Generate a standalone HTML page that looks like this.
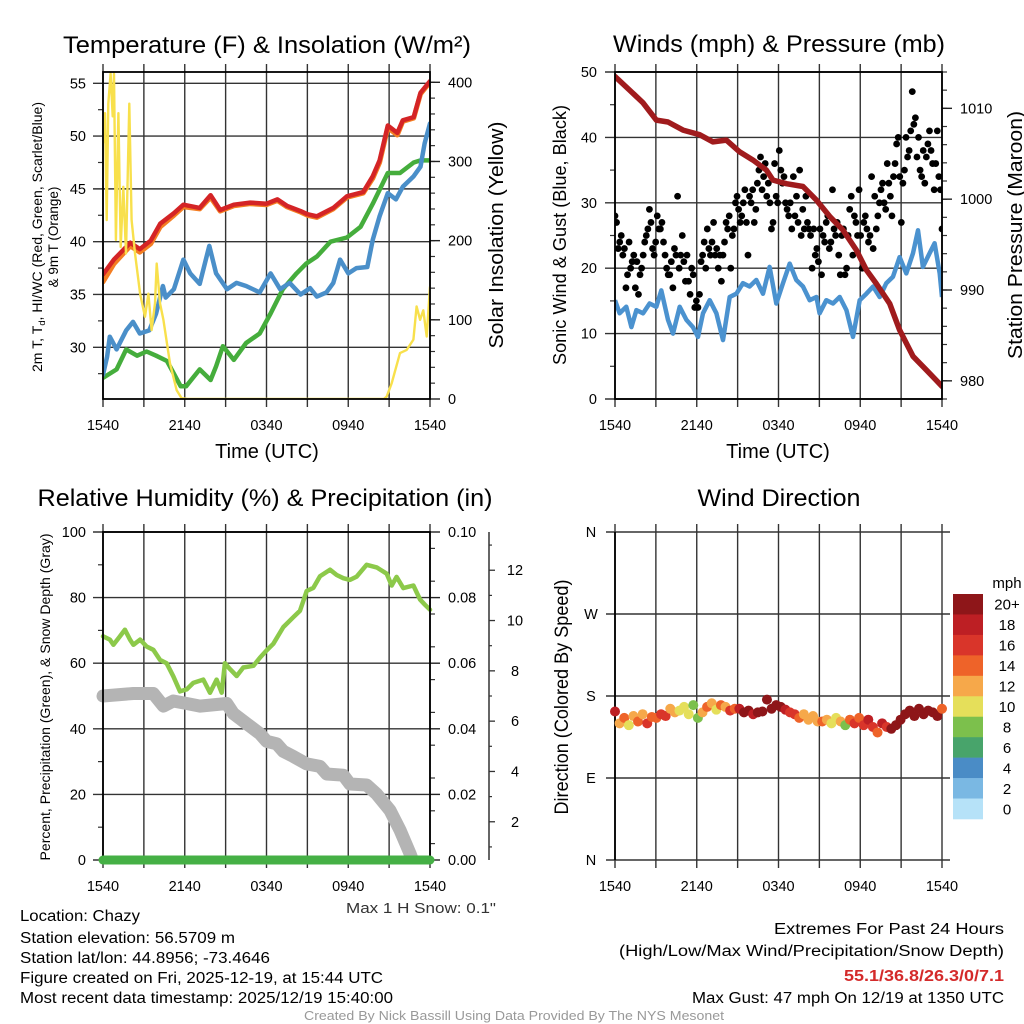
<!DOCTYPE html>
<html><head><meta charset="utf-8"><title>Chazy Meteogram</title>
<style>
html,body{margin:0;padding:0;background:#fff;}
svg{display:block;font-family:"Liberation Sans",Arial,sans-serif;}
</style></head>
<body>
<svg id="chart" width="1024" height="1024" viewBox="0 0 1024 1024" xmlns="http://www.w3.org/2000/svg">
<rect x="0" y="0" width="1024" height="1024" fill="#fff"/>
<defs>
<clipPath id="clipTL"><rect x="103" y="72" width="327" height="327"/></clipPath>
<clipPath id="clipTR"><rect x="615" y="72" width="327" height="327"/></clipPath>
<clipPath id="clipBL"><rect x="88" y="532" width="356" height="328"/></clipPath>
<clipPath id="clipBLg"><rect x="88" y="520" width="356" height="352"/></clipPath>
<clipPath id="clipBR"><rect x="606" y="532" width="345" height="328"/></clipPath>
</defs>
<g id="layer"></g>

<!-- titles -->
<text x="267" y="53" font-size="24" text-anchor="middle" textLength="408" lengthAdjust="spacingAndGlyphs">Temperature (F) &amp; Insolation (W/m²)</text>
<text x="779" y="52" font-size="24" text-anchor="middle" textLength="332" lengthAdjust="spacingAndGlyphs">Winds (mph) &amp; Pressure (mb)</text>
<text x="265" y="506" font-size="24" text-anchor="middle" textLength="455" lengthAdjust="spacingAndGlyphs">Relative Humidity (%) &amp; Precipitation (in)</text>
<text x="779" y="506" font-size="24" text-anchor="middle" textLength="163" lengthAdjust="spacingAndGlyphs">Wind Direction</text>

<!-- axis titles -->
<text transform="translate(42,237) rotate(-90)" font-size="13.5" text-anchor="middle" textLength="270" lengthAdjust="spacingAndGlyphs">2m T, T<tspan font-size="9" dy="3">d</tspan><tspan dy="-3">, HI/WC (Red, Green, Scarlet/Blue)</tspan></text>
<text transform="translate(58,237) rotate(-90)" font-size="13.5" text-anchor="middle">&amp; 9m T (Orange)</text>
<text transform="translate(503,235) rotate(-90)" font-size="20" text-anchor="middle" textLength="227" lengthAdjust="spacingAndGlyphs">Solar Insolation (Yellow)</text>
<text transform="translate(566,235) rotate(-90)" font-size="18" text-anchor="middle" textLength="260" lengthAdjust="spacingAndGlyphs">Sonic Wind &amp; Gust (Blue, Black)</text>
<text transform="translate(1022,235) rotate(-90)" font-size="20" text-anchor="middle" textLength="248" lengthAdjust="spacingAndGlyphs">Station Pressure (Maroon)</text>
<text transform="translate(50,697) rotate(-90)" font-size="14" text-anchor="middle" textLength="327" lengthAdjust="spacingAndGlyphs">Percent, Precipitation (Green), &amp; Snow Depth (Gray)</text>
<text transform="translate(568,697) rotate(-90)" font-size="19" text-anchor="middle" textLength="235" lengthAdjust="spacingAndGlyphs">Direction (Colored By Speed)</text>
<text x="267" y="458" font-size="20" text-anchor="middle">Time (UTC)</text>
<text x="778" y="458" font-size="20" text-anchor="middle">Time (UTC)</text>

<!-- colorbar label -->
<text x="1007" y="588" font-size="15" text-anchor="middle">mph</text>

<!-- footer -->
<text x="421" y="913" font-size="15" text-anchor="middle" fill="#333" textLength="150" lengthAdjust="spacingAndGlyphs">Max 1 H Snow: 0.1"</text>
<text x="20" y="921" font-size="15.5" textLength="120" lengthAdjust="spacingAndGlyphs">Location: Chazy</text>
<text x="20" y="943" font-size="15.5" textLength="215" lengthAdjust="spacingAndGlyphs">Station elevation: 56.5709 m</text>
<text x="20" y="963" font-size="15.5" textLength="250" lengthAdjust="spacingAndGlyphs">Station lat/lon: 44.8956; -73.4646</text>
<text x="20" y="983" font-size="15.5" textLength="363" lengthAdjust="spacingAndGlyphs">Figure created on Fri, 2025-12-19, at 15:44 UTC</text>
<text x="20" y="1003" font-size="15.5" textLength="373" lengthAdjust="spacingAndGlyphs">Most recent data timestamp: 2025/12/19 15:40:00</text>
<text x="1004" y="934" font-size="15.5" text-anchor="end" textLength="230" lengthAdjust="spacingAndGlyphs">Extremes For Past 24 Hours</text>
<text x="1004" y="956" font-size="15.5" text-anchor="end" textLength="385" lengthAdjust="spacingAndGlyphs">(High/Low/Max Wind/Precipitation/Snow Depth)</text>
<text x="1004" y="981" font-size="15.5" font-weight="bold" fill="#d42a2a" text-anchor="end" textLength="160" lengthAdjust="spacingAndGlyphs">55.1/36.8/26.3/0/7.1</text>
<text x="1004" y="1003" font-size="15.5" text-anchor="end" textLength="312" lengthAdjust="spacingAndGlyphs">Max Gust: 47 mph On 12/19 at 1350 UTC</text>
<text x="514" y="1020" font-size="13" fill="#999" text-anchor="middle" textLength="420" lengthAdjust="spacingAndGlyphs">Created By Nick Bassill Using Data Provided By The NYS Mesonet</text>
</svg>

<script>
// ---------- data ----------
const xTickHours = [0, 6, 12, 18, 24];
const xTickLabels = ["1540", "2140", "0340", "0940", "1540"];
const gridHours = [0, 3, 6, 9, 12, 15, 18, 21, 24];

const tempHours = [0,0.8,2,2.7,3.5,4.2,5.2,5.9,7.1,7.9,8.6,9.6,10.8,12,12.8,13.5,14.5,15,15.7,16.9,17.9,19.1,19.8,20.3,20.9,21.6,22,22.8,23.3,24];
const tempValues = [36.9,38.3,39.9,39.3,40.1,41.7,42.7,43.5,43.2,44.4,43,43.5,43.7,43.6,44,43.4,42.9,42.6,42.4,43.2,44.3,44.7,46.2,47.7,51,50.3,51.5,51.8,54.1,55.2];
const temp9mValues = [36.2,37.9,39.6,39.0,39.8,41.4,42.5,43.3,43.1,44.2,42.9,43.4,43.6,43.5,43.9,43.3,42.8,42.5,42.3,43.1,44.2,44.6,46.0,47.5,50.8,50.1,51.4,51.7,54.0,55.1];

const windChillHours = [0,0.3,0.5,1,1.7,2.2,2.7,3.4,3.9,4.4,4.6,5.2,5.9,6.4,7.1,7.8,8.3,9.1,9.8,10.5,11.5,12.3,13,13.7,14.5,15.2,15.7,16.4,16.9,17.4,18,18.6,19.4,19.8,20.3,20.9,21.5,22,22.8,23.3,23.6,24];
const windChillValues = [27.4,29.1,31,29.8,31.6,32.4,31.3,31.6,33.2,35.8,34.7,35.5,38.3,37,36,39.6,37,35.5,36.1,35.8,35.2,37,35.5,36.1,35,35.6,34.8,35.2,36.1,38.3,37,37.5,37.6,40.2,42.4,44.6,44,45.2,46.2,47.1,49.3,51.2];

const dewHours = [0,1,1.7,2.5,3.2,3.9,4.7,5.7,6.1,7.1,7.9,8.3,8.8,9.6,10.5,11.5,12.3,13.2,14.2,14.9,15.7,16.7,17.9,18.9,19.8,20.9,21.8,22.8,23.3,24];
const dewValues = [27.1,27.9,29.8,29.2,29.6,29.2,28.7,26.3,26.3,27.9,26.9,28.2,30.1,28.8,30.4,31.3,33.2,35.5,37,37.9,38.6,40,40.4,41.4,43.6,46.5,46.5,47.5,47.7,47.7];

const solarHours = [0,0.15,0.27,0.39,0.56,0.71,0.81,0.95,1.13,1.3,1.49,1.69,1.93,2.1,2.35,2.72,3.08,3.33,3.57,3.82,3.94,4.18,4.43,4.92,5.41,5.77,6.2,20.6,20.82,21.19,21.8,22.29,22.78,23.02,23.27,23.51,23.76,24];
const solarValues = [323,361,226,373,411,357,411,201,361,192,268,184,373,226,184,133,104,133,87,121,171,121,100,45,11,1,0,0,3,20,58,62,75,117,100,112,79,142];

const pressureHours = [0,1.08,2.06,3.03,3.89,4.99,6.21,7.19,8.17,9.15,10.13,11.11,11.6,12.58,13.8,14.78,15.76,16.73,17.71,18.45,19.18,20.16,20.89,21.87,22.85,24];
const pressureValues = [1013.5,1012,1010.6,1008.7,1008.5,1007.6,1007.1,1006.3,1006.5,1005.2,1004.3,1003.2,1002.1,1001.7,1001.4,999.9,998.1,996.6,994.4,992.2,990.7,988.5,985.6,982.7,981.2,979.4];

const windHours = [0,.34,.83,1.2,1.57,2.06,2.54,3.03,3.4,3.89,4.26,4.75,5.24,5.72,6.09,6.46,6.95,7.44,7.93,8.42,8.91,9.39,9.88,10.37,10.86,11.35,11.84,12.33,12.82,13.31,13.8,14.29,14.78,15.02,15.51,16,16.49,16.98,17.47,17.96,18.45,18.94,19.43,19.91,20.4,20.89,21.38,21.87,22.24,22.6,23.09,23.46,23.83,24];
const windValues = [15.1,13.1,14.1,11,13.6,13.1,14.6,14.1,16.6,12.1,10,14.1,12.1,11,9.5,13.1,15.1,13.1,9,15.6,16.1,17.7,17.2,18.2,16.1,20.2,14.6,17.7,20.7,18.2,17.2,15.1,15.6,13.1,15.1,14.6,15.6,13.6,9.5,15.1,16.1,17.2,15.6,17.7,18.7,21.7,19.2,22.3,25.8,20.2,22.3,23.8,19.2,15.6];

const gustValues = [28,27,23,24,25,22,23,17,19,
 24,20,21,22,17,21,16,19,20,22,
 24,25,26,29,27,23,22,24,28,26,
 26,27,24,22,20,19,19,21,17,23,
 22,31,20,22,25,21,18,22,18,16,
 20,19,14,15,14,16,21,22,24,20,
 26,23,22,24,27,22,23,20,22,18,
 22,24,27,26,28,20,25,26,30,31,
 29,27,28,30,32,27,22,31,30,32,
 27,29,33,35,37,32,34,36,31,33,
 30,26,27,36,31,30,38,35,33,34,
 30,29,28,30,26,34,28,31,27,35,
 25,29,26,31,27,26,25,20,26,22,
 23,21,26,19,25,24,27,28,23,24,
 32,26,25,27,22,19,25,26,19,20,
 25,29,31,22,28,27,25,32,25,20,
 27,28,26,24,25,34,23,31,26,28,
 30,32,33,30,29,36,33,31,28,34,
 36,39,40,34,27,33,35,40,37,38,
 41,47,42,43,37,40,35,34,38,33,
 37,39,41,38,36,32,36,41,34,32,26];

const rhHours = [0,.51,.76,1.25,1.61,1.98,2.23,2.72,3.2,3.69,4.18,4.67,5.16,5.65,6.14,6.63,7.36,7.85,8.34,8.71,8.95,9.32,9.81,10.3,11.04,11.52,12.01,12.5,13.23,13.96,14.46,14.95,15.44,15.93,16.66,17.15,17.64,18.13,18.62,19.35,20.09,20.82,21.19,21.55,22.04,22.78,23.27,23.63,24];
const rhValues = [68.2,67.2,65.6,68.2,70.2,67.2,65.6,67.2,65.1,64.1,61,60,56,51.4,52,54,55,51,55,51,60,58.2,56.1,58.7,59.2,61.7,63.9,65.9,71,74,76,82,83,86.5,88.5,86.9,85.9,85.4,86.4,90,89.2,87.3,83.7,86.3,82.9,83.7,79.4,77.8,76.3];

const snowHours = [0,2.23,3.69,4.43,5.16,6.14,7.12,9.08,9.57,10.55,11.52,12.01,12.75,13.23,13.96,14.95,15.93,16.42,17.64,18.13,19.35,20.09,21.06,21.8,22.53,22.9];
const snowValues = [7.0,7.1,7.1,6.6,6.8,6.7,6.6,6.7,6.3,5.9,5.5,5.2,5.1,4.8,4.6,4.3,4.2,3.9,3.85,3.5,3.46,3.1,2.46,1.67,0.74,0.2];

const precipHours = [0, 24];
const precipValues = [0, 0];

const dirValues = [163,150,156,148,158,152,160,150,157,
 156,160,158,166,162,164,168,160,170,
 156,162,168,172,165,170,168,164,166,
 166,162,164,160,162,163,176,166,170,
 168,165,162,160,156,160,154,158,152,
 152,154,150,156,152,148,154,150,156,
 148,154,146,140,150,146,144,148,154,
 160,164,158,166,160,164,162,158,166];
const dirSpeedValues = [19,13,14,11,12,14,13,17,15,
 15,16,17,13,12,11,10,11,9,
 8,13,14,12,10,14,13,16,15,
 18,20,21,19,20,22,20,21,22,
 20,18,17,16,14,13,12,12,13,
 14,13,11,10,12,9,14,16,15,
 16,18,17,15,18,17,20,21,20,
 22,21,20,22,21,20,21,22,14];

const speedBinLabels = ["20+","18","16","14","12","10","8","6","4","2","0"];
const speedBinColors = ["#8e1619","#bd1f24","#d9352a","#ee6329","#f6a84a","#e5df5a","#7cc04c","#48a46b","#4a8cc6","#7ab8e3","#b6e2f8"];
const dirTickValues = [0, 90, 180, 270, 360];
const dirTickLabels = ["N", "E", "S", "W", "N"];

// ---------- helpers ----------
const NS = "http://www.w3.org/2000/svg";
const layer = document.getElementById("layer");
function mk(tag, attrs, parent) {
  const e = document.createElementNS(NS, tag);
  for (const k in attrs) e.setAttribute(k, attrs[k]);
  (parent || layer).appendChild(e);
  return e;
}
function lin(d0, d1, r0, r1) { return v => r0 + (v - d0) / (d1 - d0) * (r1 - r0); }

const P = {
  tl: {x0:103, x1:430, y0:72, y1:399},
  tr: {x0:615, x1:942, y0:72, y1:399},
  bl: {x0:103, x1:430, y0:532, y1:860},
  br: {x0:615, x1:942, y0:532, y1:860}
};
function xs(p) { return lin(0, 24, p.x0, p.x1); }

const yTemp = lin(25.1, 56.07, 399, 72);
const ySolar = lin(0, 413, 399, 72);
const yWind = lin(0, 50, 399, 72);
const yPres = lin(978.0, 1014.0, 399, 72);
const yPct = lin(0, 100, 860, 532);
const yPrecip = lin(0, 0.1, 860, 532);
const ySnow = lin(0.48, 13.52, 860, 532);
const yDir = lin(0, 360, 860, 532);

function range(a, b, s) { const r = []; for (let v = a; v <= b + 1e-9; v += s) r.push(+v.toFixed(4)); return r; }

function drawFrame(key, name) {
  const p = P[key], x = xs(p);
  gridHours.forEach(h => {
    const g = mk("line", {x1:x(h), x2:x(h), y1:p.y0-8, y2:p.y1+8, stroke:"#333", "stroke-width":1.4});
    
    
  });
  xTickHours.forEach((h, i) => {
    const t = mk("text", {x:x(h), y:p.y1+31, "font-size":14.5, "text-anchor":"middle"});
    t.textContent = xTickLabels[i];
    
    
  });
}
function drawBorder(key, name) {
  const p = P[key];
  const b = mk("rect", {x:p.x0, y:p.y0, width:p.x1-p.x0, height:p.y1-p.y0, fill:"none", stroke:"#000", "stroke-width":1.8});
  
  
}
function hGrid(key, name, vals, scale, labels, labelX, anchor, extendRight) {
  const p = P[key];
  vals.forEach((v, i) => {
    const y = scale(v);
    const l = mk("line", {x1:p.x0-10, x2:p.x1 + (extendRight||0), y1:y, y2:y, stroke:"#333", "stroke-width":1.4});
    
    
    const t = mk("text", {x:labelX, y:y+5, "font-size":14.5, "text-anchor":anchor});
    t.textContent = labels[i];
    
    
  });
}
function minorTicks(name, vals, scale, x, dir, len) {
  vals.forEach(v => {
    const y = scale(v);
    const l = mk("line", {x1:x, x2:x + dir*len, y1:y, y2:y, stroke:"#333", "stroke-width":1.2});
    
    
  });
}
function rightAxis(name, vals, scale, labels, x, labelX) {
  vals.forEach((v, i) => {
    const y = scale(v);
    const l = mk("line", {x1:x, x2:x+10, y1:y, y2:y, stroke:"#222", "stroke-width":1.4});
    
    
    const t = mk("text", {x:labelX, y:y+5, "font-size":14.5});
    t.textContent = labels[i];
    
    
  });
}
function path(hours, vals, xsc, ysc) {
  return hours.map((h, i) => (i ? "L" : "M") + xsc(h).toFixed(1) + "," + ysc(vals[i]).toFixed(1)).join(" ");
}

// ---------- top-left: temperature ----------
(function(){
  const p = P.tl, x = xs(p);
  drawFrame("tl", "temperature");
  const tv = [30,35,40,45,50,55];
  hGrid("tl", "temperature", tv, yTemp, tv.map(String), 86, "end");
  minorTicks("temperature-left", range(27.5, 52.5, 5), yTemp, p.x0, -1, 5);
  minorTicks("insolation-right", range(20, 400, 20), ySolar, p.x1, 1, 5);
  const sv = [0,100,200,300,400];
  rightAxis("insolation", sv, ySolar, sv.map(String), p.x1, 448);
  const g = mk("g", {"clip-path":"url(#clipTL)"});
  
  
  const s1 = mk("path", {d:path(tempHours, temp9mValues, x, yTemp), fill:"none", stroke:"#f47e22", "stroke-width":5, "stroke-linejoin":"round", "stroke-linecap":"round"}, g);
  
  
  const s2 = mk("path", {d:path(tempHours, tempValues, x, yTemp), fill:"none", stroke:"#d42426", "stroke-width":4.5, "stroke-linejoin":"round", "stroke-linecap":"round"}, g);
  
  
  const s3 = mk("path", {d:path(dewHours, dewValues, x, yTemp), fill:"none", stroke:"#45ad3c", "stroke-width":4.5, "stroke-linejoin":"round", "stroke-linecap":"round"}, g);
  
  
  const s4 = mk("path", {d:path(windChillHours, windChillValues, x, yTemp), fill:"none", stroke:"#4a8fc9", "stroke-width":4.5, "stroke-linejoin":"round", "stroke-linecap":"round"}, g);
  
  
  const s5 = mk("path", {d:path(solarHours, solarValues, x, ySolar), fill:"none", stroke:"#f8e04c", "stroke-width":2.4, "stroke-linejoin":"round"}, g);
  
  
  drawBorder("tl", "temperature");
})();

// ---------- top-right: winds ----------
(function(){
  const p = P.tr, x = xs(p);
  drawFrame("tr", "winds");
  const wv = [0,10,20,30,40,50];
  hGrid("tr", "winds", wv, yWind, wv.map(String), 597, "end");
  minorTicks("winds-left", range(5, 45, 10), yWind, p.x0, -1, 5);
  minorTicks("pressure-right", range(978, 1014, 2), yPres, p.x1, 1, 5);
  const pv = [980,990,1000,1010];
  rightAxis("pressure", pv, yPres, pv.map(String), p.x1, 960);
  const g = mk("g", {"clip-path":"url(#clipTR)"});
  
  
  const w = mk("path", {d:path(windHours, windValues, x, yWind), fill:"none", stroke:"#4b92cf", "stroke-width":4.5, "stroke-linejoin":"round"}, g);
  
  
  const n = gustValues.length;
  gustValues.forEach((v, i) => {
    const c = mk("circle", {cx:x(i/(n-1)*24), cy:yWind(v), r:3.4, fill:"#000"}, g);
    
    
  });
  const pr = mk("path", {d:path(pressureHours, pressureValues, x, yPres), fill:"none", stroke:"#a01b1d", "stroke-width":5.5, "stroke-linejoin":"round", "stroke-linecap":"round"}, g);
  
  
  drawBorder("tr", "winds");
})();

// ---------- bottom-left: humidity ----------
(function(){
  const p = P.bl, x = xs(p);
  drawFrame("bl", "humidity");
  const hv = [0,20,40,60,80,100];
  hGrid("bl", "humidity", hv, yPct, hv.map(String), 86, "end");
  minorTicks("humidity-left", range(10, 90, 20), yPct, p.x0, -1, 5);
  minorTicks("precip-right", range(0.005, 0.095, 0.01), yPrecip, p.x1, 1, 5);
  const qv = [0,0.02,0.04,0.06,0.08,0.1];
  rightAxis("precip", qv, yPrecip, qv.map(v => v.toFixed(2)), p.x1, 448);
  // snow depth axis
  const ax = mk("line", {x1:489, x2:489, y1:532, y2:860, stroke:"#333", "stroke-width":1.5});
  
  
  minorTicks("snow-depth", range(1, 13, 2), ySnow, 489, 1, 3);
  const snv = [2,4,6,8,10,12];
  snv.forEach(v => {
    const y = ySnow(v);
    const l = mk("line", {x1:489, x2:495, y1:y, y2:y, stroke:"#333", "stroke-width":1.3});
    
    
    const t = mk("text", {x:515, y:y+5, "font-size":14.5, "text-anchor":"middle"});
    t.textContent = String(v);
    
    
  });
  const g = mk("g", {"clip-path":"url(#clipBL)"});
  
  
  const rh = mk("path", {d:path(rhHours, rhValues, x, yPct), fill:"none", stroke:"#8cc94a", "stroke-width":4.5, "stroke-linejoin":"round", "stroke-linecap":"round"}, g);
  
  
  const sn = mk("path", {d:path(snowHours, snowValues, x, ySnow), fill:"none", stroke:"#b4b4b4", "stroke-width":13, "stroke-linejoin":"round", "stroke-linecap":"round"}, g);
  
  
  drawBorder("bl", "humidity");
  const g2 = mk("g", {"clip-path":"url(#clipBLg)"});
  
  
  const pc = mk("path", {d:path(precipHours, precipValues, x, yPrecip), fill:"none", stroke:"#45b045", "stroke-width":9, "stroke-linecap":"round"}, g2);
  
  
})();

// ---------- bottom-right: wind direction ----------
(function(){
  const p = P.br, x = xs(p);
  drawFrame("br", "direction");
  dirTickValues.forEach((v, i) => {
    const y = yDir(v);
    const l = mk("line", {x1:p.x0-9, x2:p.x1+8, y1:y, y2:y, stroke:"#333", "stroke-width":1.4});
    
    
    const t = mk("text", {x:591, y:y+5, "font-size":14.5, "text-anchor":"middle"});
    t.textContent = dirTickLabels[i];
    
    
  });
  const ln = mk("line", {x1:p.x0, x2:p.x0, y1:p.y0, y2:p.y1, stroke:"#000", "stroke-width":1.8});
  
  
  const g = mk("g", {"clip-path":"url(#clipBR)"});
  
  
  const n = dirValues.length;
  dirValues.forEach((d, i) => {
    const idx = Math.min(10, Math.floor(dirSpeedValues[i] / 2));
    const c = mk("circle", {cx:x(i/(n-1)*24), cy:yDir(d), r:5, fill:speedBinColors[10-idx]}, g);
    
    
  });
  // colorbar
  const bh = 225 / speedBinLabels.length;
  speedBinLabels.forEach((lab, i) => {
    const r = mk("rect", {x:953, y:594 + i*bh, width:30, height:bh+0.3, fill:speedBinColors[i]});
    
    
    const t = mk("text", {x:1007, y:594 + i*bh + bh/2 + 5.5, "font-size":15, "text-anchor":"middle"});
    t.textContent = lab;
    
    
  });
})();
</script>
</body></html>
